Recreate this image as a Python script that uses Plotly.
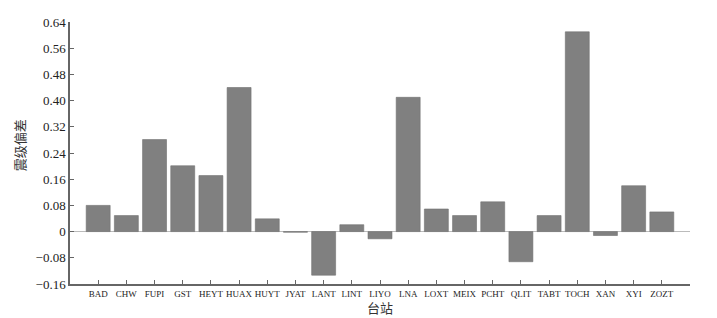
import plotly.graph_objects as go

stations = ["BAD", "CHW", "FUPI", "GST", "HEYT", "HUAX", "HUYT", "JYAT", "LANT", "LINT",
            "LIYO", "LNA", "LOXT", "MEIX", "PCHT", "QLIT", "TABT", "TOCH", "XAN", "XYI", "ZOZT"]
deviation = [0.08, 0.049, 0.281, 0.201, 0.171, 0.44, 0.039, -0.002, -0.133, 0.021,
             -0.022, 0.41, 0.069, 0.049, 0.091, -0.092, 0.049, 0.61, -0.012, 0.14, 0.06]
ytick_vals = [0.64, 0.56, 0.48, 0.40, 0.32, 0.24, 0.16, 0.08, 0, -0.08, -0.16]
ytick_text = ["0.64", "0.56", "0.48", "0.40", "0.32", "0.24", "0.16", "0.08", "0", "\u22120.08", "\u22120.16"]

serif = "Liberation Serif, Times New Roman, serif"
cjk = "Noto Sans CJK SC, sans-serif"

fig = go.Figure(go.Bar(
    x=stations, y=deviation,
    marker=dict(color="#808080", line=dict(width=0.6, color="#707070")),
    width=0.85,
))

fig.update_layout(
    width=717, height=318,
    margin=dict(l=70, r=27, t=22, b=34),
    plot_bgcolor="white", paper_bgcolor="white",
    showlegend=False,
    bargap=0.15,
    annotations=[
        dict(text="台站", x=0.5, y=0, xref="paper", yref="paper", yshift=-23,
             xanchor="center", yanchor="middle", showarrow=False,
             font=dict(family=cjk, size=13, color="#333333")),
        dict(text="震级偏差", x=0, y=0.53, xref="paper", yref="paper", xshift=-51,
             xanchor="center", yanchor="middle", showarrow=False, textangle=-90,
             font=dict(family=cjk, size=13, color="#333333")),
    ],
)

fig.update_xaxes(
    range=[-1, 21], automargin=False,
    showline=True, linecolor="#666666", linewidth=1.5,
    ticks="inside", ticklen=4, tickcolor="#666666", tickwidth=1,
    tickfont=dict(family=serif, size=9, color="#222222"),
    tickangle=0,
    showgrid=False,
)
fig.update_yaxes(
    range=[-0.16, 0.64], automargin=False,
    tickvals=ytick_vals, ticktext=ytick_text,
    showline=True, linecolor="#666666", linewidth=1.5,
    ticks="inside", ticklen=4, tickcolor="#666666", tickwidth=1,
    tickfont=dict(family=serif, size=13, color="#222222"),
    showgrid=False,
    zeroline=True, zerolinecolor="#bbbbbb", zerolinewidth=1,
)

fig.write_html("out.html", config={"displayModeBar": False},
               post_script="document.body.style.margin='0';")
